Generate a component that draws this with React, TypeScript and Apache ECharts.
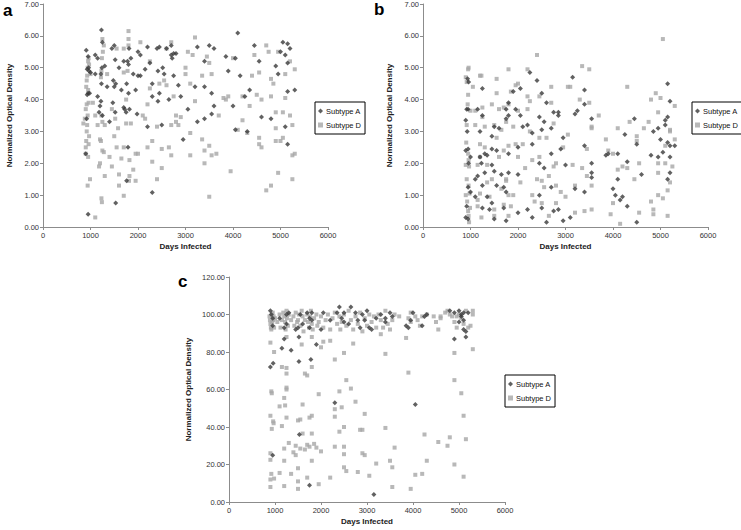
import React, { useEffect, useRef } from "react";
import * as echarts from "echarts";

const xTicks = [0, 1000, 2000, 3000, 4000, 5000, 6000];
const seriesNames = ["Subtype A", "Subtype D"];
const panelLabels = ["a", "b", "c"];
const xTitle = "Days Infected";
const yTitle = "Normalized Optical Density";

const aSubA: number[][] = [
  [910,5.55],[950,5.35],[960,5.0],[930,4.95],[970,4.9],[950,4.2],[930,4.15],[980,4.2],[920,3.4],[900,2.3],[950,0.4],
  [1000,4.85],[1100,5.4],[1150,5.3],[1100,4.8],[1150,4.1],[1180,3.6],[1230,6.18],[1250,5.8],[1240,5.0],[1220,4.8],
  [1230,4.5],[1220,3.95],[1200,3.8],[1250,3.5],[1300,5.05],[1350,4.4],[1400,3.3],[1450,5.6],[1500,5.7],[1520,5.25],
  [1480,4.6],[1500,4.4],[1530,4.5],[1470,3.9],[1520,3.6],[1530,0.75],[1600,5.0],[1650,4.3],[1700,3.75],[1720,3.7],
  [1750,3.6],[1760,4.5],[1780,5.2],[1800,5.1],[1810,5.6],[1800,4.2],[1820,3.7],[1790,2.5],[1760,1.45],[1700,5.2],
  [1850,5.3],[1900,4.8],[1950,4.3],[2000,5.5],[2050,5.4],[2000,4.75],[2050,4.75],[1980,3.55],[2150,4.95],[2200,3.15],
  [2200,5.65],[2250,5.15],[2300,4.5],[2300,4.1],[2300,1.08],[2400,5.6],[2450,5.65],[2420,4.9],[2450,4.2],[2420,3.95],
  [2500,3.2],[2520,5.0],[2550,4.8],[2600,5.6],[2650,4.0],[2700,5.7],[2700,5.4],[2720,5.3],[2750,5.45],[2800,5.45],
  [2750,4.75],[2850,4.45],[2900,4.1],[2950,2.75],[3050,3.7],[3200,4.4],[3250,3.3],[3250,5.65],[3400,5.2],[3400,4.4],
  [3400,3.4],[3500,5.7],[3550,4.2],[3550,3.55],[3600,5.6],[3600,3.8],[3850,5.35],[3900,4.9],[4000,3.8],[4050,5.3],
  [4100,6.09],[4050,3.05],[4150,4.75],[4250,4.1],[4300,3.0],[4350,4.3],[4450,5.7],[4550,5.2],[4600,3.45],[4800,3.4],
  [4900,5.05],[4950,4.8],[5000,5.5],[5050,5.8],[5100,5.4],[5100,3.15],[5150,5.75],[5150,5.15],[5150,4.25],[5150,2.6],
  [5300,4.3],[5200,5.6]
];

const aSubD: number[][] = [
  [850,3.25],[880,3.4],[900,2.3],[900,2.5],[910,2.7],[920,3.0],[930,3.2],[900,3.7],[920,3.85],[910,4.4],[920,4.6],
  [930,4.75],[940,5.0],[950,5.2],[960,5.3],[970,5.1],[950,4.3],[960,3.9],[940,3.5],[950,2.2],[960,2.6],[970,2.85],
  [940,1.3],[990,1.5],[1000,4.8],[1050,3.9],[1100,0.3],[1100,3.5],[1150,3.2],[1180,1.9],[1200,2.0],[1200,2.75],
  [1220,2.7],[1230,0.9],[1240,0.78],[1250,2.4],[1230,3.5],[1250,3.3],[1220,4.7],[1230,4.9],[1240,5.3],[1250,5.9],
  [1260,5.5],[1280,5.7],[1280,2.35],[1300,1.6],[1300,3.2],[1350,4.8],[1400,2.2],[1450,1.9],[1450,3.7],[1500,2.85],
  [1520,3.4],[1550,2.5],[1550,5.6],[1580,3.1],[1600,1.3],[1600,1.65],[1650,2.15],[1700,0.98],[1700,2.5],[1700,4.85],
  [1700,5.6],[1750,3.25],[1750,4.0],[1780,4.9],[1800,6.15],[1800,5.9],[1800,5.7],[1810,1.45],[1820,1.6],[1820,2.1],
  [1850,3.25],[1900,1.8],[1950,2.3],[1950,1.45],[2000,2.3],[2050,5.8],[2100,3.5],[2150,3.4],[2200,2.5],[2200,3.85],
  [2250,4.35],[2250,5.2],[2300,2.05],[2300,2.7],[2400,3.15],[2400,1.5],[2450,4.5],[2500,1.85],[2500,2.45],[2550,4.6],
  [2600,4.45],[2600,5.6],[2650,2.5],[2700,5.8],[2700,3.2],[2700,2.25],[2750,4.1],[2800,3.5],[2800,3.3],[2850,3.2],
  [2900,3.45],[3000,4.8],[3000,5.0],[3050,5.5],[3100,2.25],[3100,2.95],[3100,4.5],[3150,5.4],[3200,5.95],[3200,3.95],
  [3350,2.75],[3350,4.75],[3400,2.0],[3400,2.4],[3450,5.35],[3500,0.95],[3500,2.55],[3500,5.15],[3550,2.25],[3550,4.8],
  [3650,2.3],[3700,3.5],[3800,4.05],[3850,4.0],[3900,4.1],[3950,1.75],[4000,5.3],[4100,3.05],[4200,3.35],[4200,4.1],
  [4300,2.95],[4350,3.8],[4400,4.75],[4450,5.4],[4500,4.15],[4550,2.8],[4550,2.6],[4550,4.85],[4600,4.0],[4600,2.5],
  [4700,1.15],[4700,5.7],[4750,5.5],[4800,1.3],[4800,4.1],[4800,4.65],[4850,4.5],[4900,3.6],[4900,3.1],[4900,2.7],
  [4950,1.7],[4950,5.5],[5000,2.7],[5050,2.8],[5050,3.6],[5100,4.05],[5100,4.8],[5200,3.5],[5200,5.2],[5250,1.5],
  [5250,2.25],[5300,2.3],[5300,4.95],[5250,3.2]
];

const bSubA: number[][] = [
  [900,3.35],[920,3.7],[940,4.65],[960,4.55],[950,3.7],[930,3.0],[900,2.4],[950,2.45],[960,2.0],[950,1.25],[920,0.65],
  [900,0.3],[950,0.25],[1000,1.1],[1000,2.2],[1100,1.5],[1100,0.95],[1150,1.6],[1150,3.7],[1200,3.0],[1200,2.2],
  [1250,4.35],[1250,3.5],[1230,2.0],[1250,1.3],[1250,0.6],[1300,2.3],[1300,1.7],[1350,2.25],[1350,0.95],[1400,0.55],
  [1450,2.85],[1450,2.45],[1450,1.95],[1450,0.75],[1500,3.15],[1500,1.75],[1500,0.25],[1550,2.4],[1550,1.3],[1600,3.1],
  [1650,1.65],[1700,1.25],[1700,0.6],[1750,3.7],[1750,3.4],[1750,1.1],[1750,0.2],[1800,3.9],[1800,3.5],[1800,1.7],
  [1800,2.3],[1900,4.25],[1950,3.7],[2000,2.5],[2000,1.65],[2000,0.45],[2050,3.5],[2050,4.35],[2100,3.15],[2200,0.55],
  [2200,3.2],[2250,4.85],[2300,2.95],[2300,2.6],[2300,0.3],[2400,4.6],[2450,3.45],[2450,2.0],[2450,1.0],[2500,3.05],
  [2500,4.2],[2500,0.6],[2550,3.3],[2550,1.85],[2600,3.9],[2600,0.15],[2700,2.3],[2700,3.1],[2700,1.25],[2750,0.5],
  [2750,3.6],[2850,3.5],[2850,3.6],[2850,0.55],[2900,2.45],[2950,2.8],[2950,0.2],[3000,1.95],[3100,0.3],[3150,4.7],
  [3200,1.2],[3200,3.55],[3250,3.65],[3400,4.3],[3400,3.85],[3400,2.55],[3400,1.1],[3550,3.4],[3550,2.0],[3550,1.55],
  [3550,1.7],[3850,2.25],[3900,2.3],[4000,1.2],[4050,1.0],[4100,1.5],[4100,2.3],[4150,0.85],[4200,0.95],[4250,2.9],
  [4300,2.05],[4300,0.65],[4450,3.4],[4500,2.6],[4500,0.15],[4600,1.65],[4800,2.25],[4850,3.0],[4950,3.1],[4950,2.2],
  [5000,2.75],[5050,2.35],[5100,3.2],[5100,3.35],[5150,4.5],[5150,3.45],[5150,2.65],[5150,1.5],[5200,3.95],[5200,2.2],
  [5200,1.7],[5300,2.55],[5200,2.55]
];

const bSubD: number[][] = [
  [900,4.7],[920,4.55],[950,4.95],[960,5.0],[950,4.15],[940,3.85],[920,3.2],[910,2.65],[950,2.3],[960,2.1],[970,1.9],
  [900,1.95],[920,1.5],[960,1.3],[980,1.05],[900,1.0],[930,0.8],[950,0.5],[960,0.35],[970,0.15],[990,0.6],[1000,3.65],
  [1050,4.4],[1100,3.2],[1100,3.65],[1150,1.95],[1150,0.65],[1150,0.85],[1200,4.75],[1230,4.75],[1250,3.75],[1250,3.45],
  [1200,2.6],[1200,2.2],[1200,1.05],[1230,0.3],[1300,3.15],[1300,2.5],[1350,1.95],[1350,1.4],[1400,0.95],[1450,3.85],
  [1450,1.5],[1500,3.2],[1500,0.55],[1500,0.35],[1550,4.65],[1550,4.2],[1550,2.8],[1600,3.7],[1600,2.2],[1650,3.05],
  [1650,1.2],[1700,2.4],[1700,3.75],[1700,0.7],[1750,3.3],[1750,1.5],[1750,1.45],[1800,4.95],[1800,3.85],[1800,2.55],
  [1800,1.0],[1800,0.35],[1850,4.25],[1850,0.65],[1900,3.15],[1900,1.0],[1950,4.45],[1950,2.6],[2000,3.65],[2000,4.5],
  [2000,2.2],[2050,1.4],[2100,2.6],[2150,1.85],[2200,4.95],[2200,4.1],[2200,3.7],[2250,3.95],[2250,3.0],[2300,2.1],
  [2300,1.0],[2350,0.8],[2400,1.5],[2400,5.4],[2450,4.1],[2450,2.8],[2450,2.2],[2500,1.45],[2500,0.75],[2550,1.25],
  [2600,2.8],[2650,1.6],[2650,0.35],[2700,4.4],[2700,3.9],[2750,3.25],[2750,1.9],[2800,1.3],[2800,0.75],[2800,2.0],
  [2900,1.1],[2950,2.5],[3000,0.95],[3050,4.4],[3050,2.9],[3100,4.4],[3150,1.95],[3200,0.45],[3200,1.3],[3300,4.0],
  [3350,5.05],[3350,1.85],[3400,0.5],[3450,1.6],[3450,2.45],[3500,3.9],[3500,4.95],[3550,3.15],[3550,3.1],[3550,0.55],
  [3550,1.3],[3700,3.5],[3850,2.75],[3900,2.4],[3950,0.4],[4000,0.75],[4000,2.3],[4100,1.8],[4100,3.1],[4150,0.1],
  [4200,1.9],[4300,1.85],[4300,4.4],[4350,3.3],[4450,1.5],[4500,2.85],[4500,2.7],[4550,2.0],[4550,0.45],[4650,3.1],
  [4750,3.3],[4800,0.8],[4800,4.0],[4850,0.55],[4850,0.4],[4900,4.2],[4950,3.6],[4950,2.0],[4950,1.7],[4950,1.0],
  [5000,4.05],[5050,5.9],[5050,0.9],[5100,2.55],[5100,2.0],[5150,1.15],[5150,0.35],[5200,3.05],[5200,1.4],[5250,1.9],
  [5300,3.8],[5300,2.75],[5200,3.0]
];

const cSubA: number[][] = [
  [900,102],[920,100],[950,98],[950,94],[900,72],[960,74],[950,25],[1100,98],[1150,82],[1200,87],[1200,93],[1250,95],
  [1250,100],[1300,101],[1350,81],[1450,92],[1500,93],[1520,88],[1520,75],[1530,36],[1550,100],[1600,95],[1700,101],
  [1750,93],[1750,98],[1780,76],[1750,9],[1800,97],[1800,101],[1900,84],[2000,92],[2050,101],[2200,97],[2300,53],
  [2350,101],[2400,104],[2450,98],[2500,96],[2500,101],[2600,95],[2650,104],[2750,101],[2800,97],[2850,93],[2900,100],
  [2950,97],[3000,102],[3050,93],[3100,92],[3150,4],[3200,98],[3300,100],[3400,98],[3400,96],[3500,101],[3550,99],
  [3850,94],[3900,93],[3950,97],[4000,101],[4050,52],[4200,94],[4250,99],[4300,100],[4800,102],[4900,101],[4900,87],
  [5000,102],[5050,100],[5100,97],[5100,92],[5150,91],[5150,88],[5200,101],[5100,101],[5000,96],[5050,99]
];

const cSubD: number[][] = [
  [900,85],[900,46],[920,59],[930,58],[900,26],[900,22.5],[900,12],[900,8],[920,15],[930,39],[960,43],[970,42],
  [980,12.5],[980,80],[1100,15.5],[1100,51],[1150,40.5],[1150,72],[1200,22],[1200,8.5],[1200,28.5],[1200,55.5],
  [1220,51.5],[1250,45],[1250,60],[1250,61],[1250,71.5],[1250,68.5],[1250,88],[1300,31.5],[1350,15],[1400,26.5],
  [1450,25],[1450,30],[1500,18],[1500,11],[1500,7],[1500,43.5],[1550,44],[1550,28.5],[1580,84],[1600,52],[1600,36.5],
  [1650,28],[1650,68.5],[1700,67.5],[1700,13],[1700,30.5],[1750,45],[1750,29.5],[1800,46],[1800,22],[1800,36.5],
  [1800,72],[1800,88],[1850,31],[1900,29],[1950,57.5],[1950,9.5],[2000,27],[2000,82.5],[2050,85.5],[2200,13],[2200,86],
  [2300,76],[2300,29.5],[2300,45.5],[2300,49.5],[2400,37.5],[2400,59],[2450,50.5],[2500,40],[2500,29.5],[2500,18.5],
  [2500,25.5],[2500,79.5],[2550,16.5],[2550,65],[2650,60.5],[2700,84.5],[2750,53.5],[2800,16],[2850,38.5],[2900,38.5],
  [2900,26],[2950,25],[2950,47],[3050,14],[3200,20.5],[3300,89.5],[3400,79],[3400,39.5],[3500,22],[3550,18.5],[3550,8],
  [3600,29],[3850,87.5],[3900,69],[3950,7],[4050,14.5],[4200,15],[4250,36],[4300,22],[4550,32],[4750,30],[4800,34.5],
  [4900,20],[4900,65],[4900,79.5],[5100,46],[5050,58],[5100,13.5],[5150,33.5],[5300,81.5],
  [880,99],[890,97],[900,95],[910,93],[920,92],[930,100],[940,96],[950,101],[960,97],[970,99],[980,93],[1000,98],
  [1050,96],[1100,100],[1120,93],[1150,97],[1180,101],[1200,99],[1220,96],[1230,92],[1250,102],[1260,98],[1280,94],
  [1300,100],[1350,97],[1400,99],[1420,94],[1450,101],[1480,96],[1500,97],[1520,100],[1550,94],[1580,102],[1600,99],
  [1620,91],[1650,97],[1700,100],[1720,96],[1740,93],[1760,99],[1780,102],[1800,95],[1820,92],[1850,98],[1900,100],
  [1920,94],[1950,96],[2000,99],[2050,93],[2100,97],[2150,100],[2200,92],[2250,98],[2300,101],[2350,95],[2400,99],
  [2420,92],[2450,96],[2500,100],[2550,94],[2600,102],[2650,97],[2700,92],[2750,99],[2800,95],[2850,101],[2900,91],
  [2950,98],[3000,94],[3050,100],[3100,96],[3150,99],[3200,93],[3250,100],[3300,97],[3350,93],[3400,102],[3450,95],
  [3500,92],[3550,97],[3600,100],[3700,99],[3900,98],[3950,101],[4050,99],[4100,97],[4150,94],[4200,99],[4300,100],
  [4450,99],[4500,96],[4550,92],[4600,98],[4700,101],[4750,102],[4800,100],[4850,99],[4900,96],[4950,99],[5000,100],
  [5050,98],[5100,95],[5150,102],[5200,93],[5250,94],[5300,102],[5300,100],[4950,93],[4600,99],[3950,96]
];

const panelData = [
  { subA: aSubA, subD: aSubD, yMax: 7, yInterval: 1 },
  { subA: bSubA, subD: bSubD, yMax: 7, yInterval: 1 },
  { subA: cSubA, subD: cSubD, yMax: 120, yInterval: 20 },
];

const FONT = "Liberation Sans, Arial, sans-serif";
const COLOR_A = "#3a3a3a";
const COLOR_D = "#a6a6a6";

export default function App() {
  const ref = useRef<HTMLDivElement>(null);
  useEffect(() => {
    if (!ref.current) return;
    const chart = echarts.init(ref.current, undefined, { renderer: "svg" });
    const grids = [
      { left: 43, top: 3, width: 285, height: 224 },
      { left: 423, top: 3, width: 285, height: 224 },
      { left: 229, top: 277, width: 276, height: 225 },
    ];
    const legends = [
      { left: 315, top: 102 },
      { left: 692, top: 102 },
      { left: 505, top: 375 },
    ];
    const labelPos = [
      { left: 3, top: 2 },
      { left: 374, top: 1 },
      { left: 178, top: 273 },
    ];
    const axisLine = { show: true, lineStyle: { color: "#8c8c8c", width: 1 } };
    const xAxis = grids.map((_, i) => ({
      type: "value",
      gridIndex: i,
      min: xTicks[0],
      max: xTicks[xTicks.length - 1],
      interval: xTicks[1] - xTicks[0],
      name: xTitle,
      nameLocation: "middle",
      nameGap: 15,
      nameTextStyle: { fontFamily: FONT, fontSize: 8, fontWeight: "bold", color: "#222" },
      axisLine,
      axisTick: { show: true, length: 3, inside: false, lineStyle: { color: "#8c8c8c" } },
      axisLabel: {
        fontFamily: FONT,
        fontSize: 7.5,
        color: "#333",
        margin: 4,
        formatter: (v: number) => String(v),
      },
      splitLine: { show: false },
    }));
    const yAxis = grids.map((_, i) => ({
      type: "value",
      gridIndex: i,
      min: 0,
      max: panelData[i].yMax,
      interval: panelData[i].yInterval,
      name: yTitle,
      nameLocation: "middle",
      nameGap: i === 2 ? 37 : 30,
      nameTextStyle: { fontFamily: FONT, fontSize: 8, fontWeight: "bold", color: "#222" },
      axisLine,
      axisTick: { show: true, length: 3, lineStyle: { color: "#8c8c8c" } },
      axisLabel: {
        fontFamily: FONT,
        fontSize: 7.5,
        color: "#333",
        margin: 4,
        formatter: (v: number) => v.toFixed(2),
      },
      splitLine: { show: false },
    }));
    const series: any[] = [];
    panelData.forEach((p, i) => {
      series.push({
        type: "scatter",
        name: seriesNames[1],
        xAxisIndex: i,
        yAxisIndex: i,
        data: p.subD,
        symbol: "rect",
        symbolSize: 4,
        itemStyle: { color: COLOR_D },
      });
      series.push({
        type: "scatter",
        name: seriesNames[0],
        xAxisIndex: i,
        yAxisIndex: i,
        data: p.subA,
        symbol: "diamond",
        symbolSize: 5,
        itemStyle: { color: COLOR_A },
      });
    });
    const option: any = {
      animation: false,
      backgroundColor: "#fff",
      grid: grids,
      xAxis,
      yAxis,
      series,
      legend: legends.map((l) => ({
        left: l.left,
        top: l.top,
        orient: "vertical",
        data: [
          { name: seriesNames[0], icon: "diamond" },
          { name: seriesNames[1], icon: "rect" },
        ],
        itemWidth: 5,
        itemHeight: 5,
        itemGap: 6,
        padding: [5, 4, 5, 3],
        borderColor: "#000",
        borderWidth: 1,
        backgroundColor: "#fff",
        selectedMode: false,
        textStyle: { fontFamily: FONT, fontSize: 7.5, color: "#111", padding: [0, 0, 0, -2] },
      })),
      graphic: labelPos.map((p, i) => ({
        type: "text",
        left: p.left,
        top: p.top,
        style: {
          text: panelLabels[i],
          font: `bold 17px ${FONT}`,
          fill: "#000",
        },
      })),
    };
    chart.setOption(option);
    return () => chart.dispose();
  }, []);
  return (
    <div
      ref={ref}
      style={{ position: "fixed", left: 0, top: 0, width: 741, height: 530 }}
    />
  );
}
